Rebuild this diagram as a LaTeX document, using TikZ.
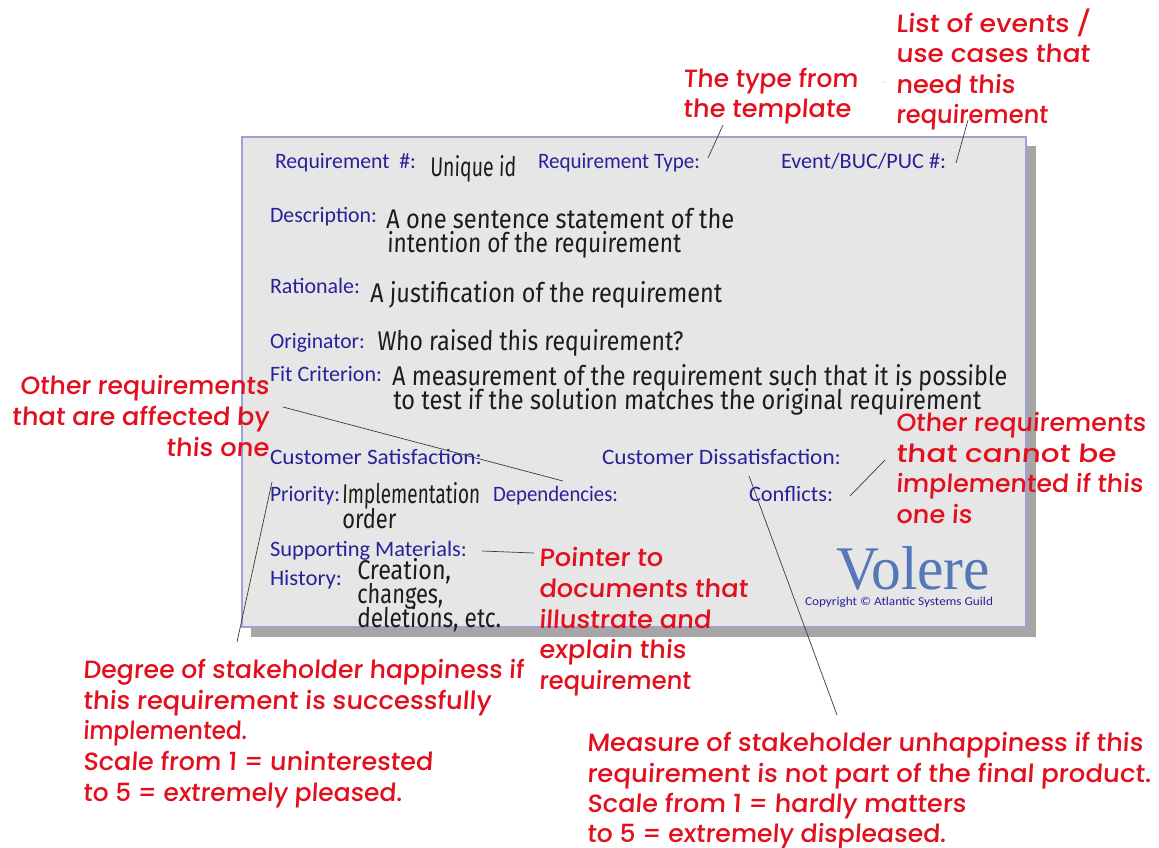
\documentclass[tikz,border=0pt]{standalone}
\usepackage{fontspec}
\usepackage{graphicx}
\newfontfamily\redfont[FakeSlant=0.06]{Poppins Medium}
\newfontfamily\bluefont{Carlito}
\newfontfamily\handfont[FakeSlant=0.04]{Fira Sans}
\definecolor{redtxt}{HTML}{E2101F}
\definecolor{bluetxt}{HTML}{27229A}
\definecolor{blacktxt}{HTML}{1C1C1C}
\definecolor{cardfill}{HTML}{E6E6E6}
\definecolor{cardedge}{HTML}{A0A0D4}
\definecolor{shadowc}{HTML}{A6A6A6}
\definecolor{volerec}{HTML}{5577B8}
\definecolor{leader}{HTML}{3A3A3A}
\tikzset{
  x=1pt,y=-1pt,
  tx/.style={anchor=base west,inner sep=0pt,outer sep=0pt},
  redn/.style={tx,text=redtxt,font=\redfont\fontsize{25}{25}\selectfont},
  bluen/.style={tx,yshift=-1pt,text=bluetxt,font=\bluefont\fontsize{22}{22}\selectfont},
  handn/.style={tx,text=blacktxt,font=\handfont\fontsize{27}{27}\selectfont},
  leaderline/.style={draw=leader,line width=0.7pt},
}
% name, style, left x, baseline y, right x, text
\newcommand\fitline[6]{%
  \pgfmathsetlengthmacro\fitw{(#5-#3)*1pt}%
  \node[#2] (#1) at (#3,#4) {\resizebox{\fitw}{\height}{#6}};}
\begin{document}
\begin{tikzpicture}
\useasboundingbox (0,0) rectangle (1159,848);
\fill[white] (0,0) rectangle (1159,848);
\fill[shadowc] (251,146) rectangle (1036,637);
\draw[draw=cardedge,fill=cardfill,line width=1.2pt] (242,137) rectangle (1026,627);

% blue labels
\fitline{lReq}{bluen}{275}{167}{416}{Requirement\ \ \#:}
\fitline{lType}{bluen}{538}{167}{700}{Requirement Type:}
\fitline{lEvent}{bluen}{781}{167}{946}{Event/BUC/PUC \#:}
\fitline{lDesc}{bluen}{270}{221}{377}{Description:}
\fitline{lRat}{bluen}{270}{292}{360}{Rationale:}
\fitline{lOrig}{bluen}{270}{347}{365}{Originator:}
\fitline{lFit}{bluen}{270}{380}{382}{Fit Criterion:}
\fitline{lSat}{bluen}{270}{463}{482}{Customer Satisfaction:}
\fitline{lDis}{bluen}{602}{463}{841}{Customer Dissatisfaction:}
\fitline{lPri}{bluen}{270}{500}{340}{Priority:}
\fitline{lDep}{bluen}{493}{500}{618}{Dependencies:}
\fitline{lCon}{bluen}{749}{500}{833}{Conflicts:}
\fitline{lSup}{bluen}{270}{555}{467}{Supporting Materials:}
\fitline{lHis}{bluen}{270}{584}{342}{History:}

% handwritten values
\fitline{hId}{handn}{430}{176}{516}{Unique id}
\fitline{hDa}{handn}{386}{228}{734}{A one sentence statement of the}
\fitline{hDb}{handn}{387}{252}{681}{intention of the requirement}
\fitline{hRat}{handn}{370}{302}{722}{A justification of the requirement}
\fitline{hOrig}{handn}{377}{350}{683}{Who raised this requirement?}
\fitline{hFa}{handn}{392}{385}{1007}{A measurement of the requirement such that it is possible}
\fitline{hFb}{handn}{393}{409}{981}{to test if the solution matches the original requirement}
\fitline{hPa}{handn}{342}{503}{480}{Implementation}
\fitline{hPb}{handn}{342}{528}{396}{order}
\fitline{hHa}{handn}{357}{579}{451}{Creation,}
\fitline{hHb}{handn}{357}{603}{443}{changes,}
\fitline{hHc}{handn}{357}{627}{501}{deletions, etc.}

% logo
\fitline{logo}{tx,text=volerec,font=\fontspec{Liberation Serif}\fontsize{62}{62}\selectfont}{836}{589}{990}{Volere}
\fitline{copy}{tx,text=bluetxt,font=\bluefont\fontsize{12}{12}\selectfont}{805}{605}{993}{Copyright © Atlantic Systems Guild}

% red notes
\fitline{a1}{redn}{896}{33}{1090}{List of events /}
\fitline{a2}{redn}{896}{63}{1090}{use cases that}
\fitline{a3}{redn}{896}{94}{1015}{need this}
\fitline{a4}{redn}{896}{124}{1048}{requirement}
\fitline{b1}{redn}{683}{88}{858}{The type from}
\fitline{b2}{redn}{683}{118}{851}{the template}
\fitline{c1}{redn}{20}{394}{269}{Other requirements}
\fitline{c2}{redn}{12}{425}{269}{that are affected by}
\fitline{c3}{redn}{166}{456}{269}{this one}
\fitline{d1}{redn}{896}{431}{1146}{Other requirements}
\fitline{d2}{redn}{896}{462}{1116}{that cannot be}
\fitline{d3}{redn}{896}{492}{1143}{implemented if this}
\fitline{d4}{redn}{896}{523}{972}{one is}
\fitline{e1}{redn}{539}{566}{663}{Pointer to}
\fitline{e2}{redn}{539}{597}{748}{documents that}
\fitline{e3}{redn}{539}{628}{711}{illustrate and}
\fitline{e4}{redn}{539}{658}{686}{explain this}
\fitline{e5}{redn}{539}{689}{691}{requirement}
\fitline{f1}{redn}{83}{678}{524}{Degree of stakeholder happiness if}
\fitline{f2}{redn}{83}{709}{491}{this requirement is successfully}
\fitline{f3}{redn}{83}{739}{247}{implemented.}
\fitline{f4}{redn}{83}{770}{433}{Scale from 1 = uninterested}
\fitline{f5}{redn}{83}{801}{402}{to 5 = extremely pleased.}
\fitline{g1}{redn}{587}{751}{1143}{Measure of stakeholder unhappiness if this}
\fitline{g2}{redn}{587}{782}{1151}{requirement is not part of the final product.}
\fitline{g3}{redn}{587}{812}{966}{Scale from 1 = hardly matters}
\fitline{g4}{redn}{587}{842}{946}{to 5 = extremely displeased.}

% leader end points
\coordinate (pType) at (708,158);  \coordinate (pTypeN) at (723,125);
\coordinate (pEv) at (956,163);    \coordinate (pEvN) at (968,120);
\coordinate (pAffN) at (283,407);  \coordinate (pDep) at (563,481);
\coordinate (pSat) at (272,482);   \coordinate (pSatN) at (237,642);
\coordinate (pSup) at (482,551);   \coordinate (pSupN) at (534,553);
\coordinate (pCon) at (850,496);   \coordinate (pConN) at (885,460);
\coordinate (pDis) at (749,476);   \coordinate (pDisN) at (837,715);
\draw[leaderline] (pType) -- (pTypeN);
\draw[leaderline] (pEv) -- (pEvN);
\draw[leaderline] (pAffN) -- (pDep);
\draw[leaderline] (pSat) -- (pSatN);
\draw[leaderline] (pSup) -- (pSupN);
\draw[leaderline] (pCon) -- (pConN);
\draw[leaderline] (pDis) -- (pDisN);
\fill[shadowc] (884,82) circle (0.6);
\end{tikzpicture}
\end{document}
